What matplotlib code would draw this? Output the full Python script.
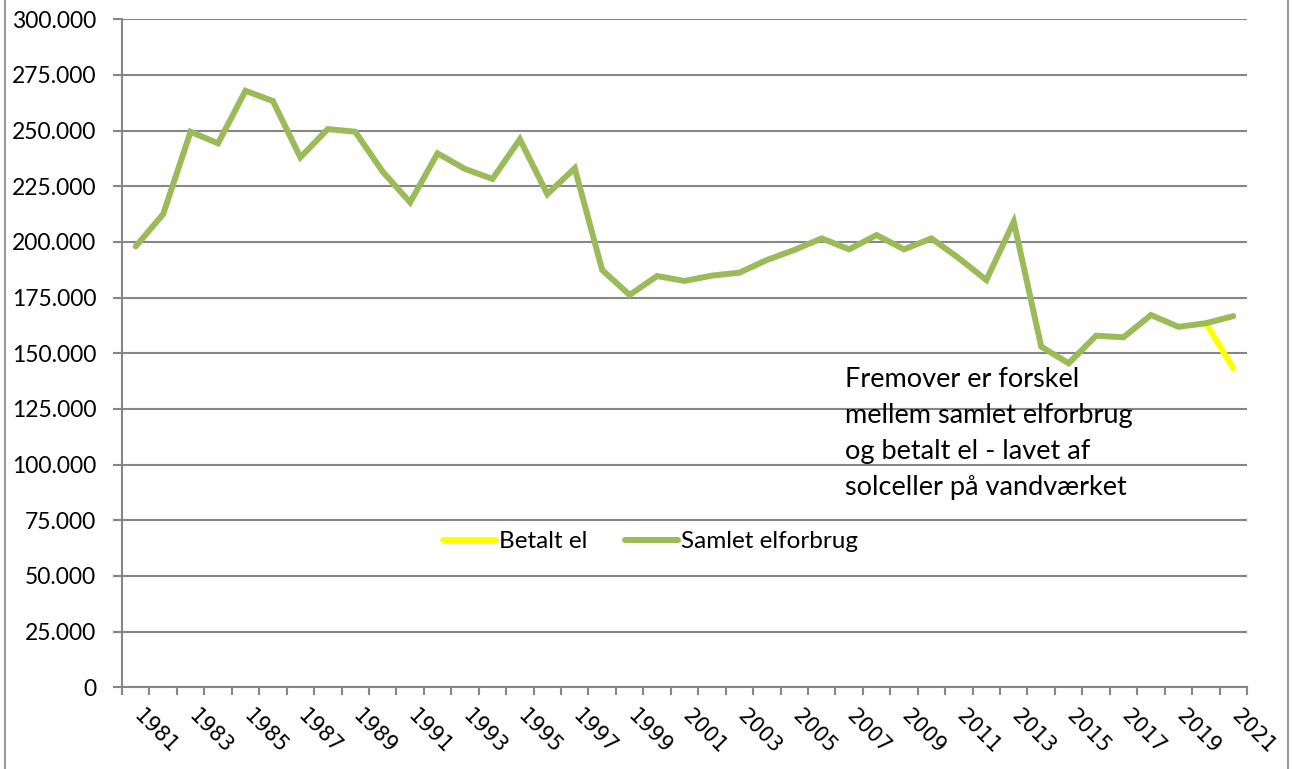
import numpy as np
import matplotlib.pyplot as plt
import matplotlib.transforms as mtransforms
from matplotlib.ticker import FuncFormatter
from matplotlib.patches import Rectangle

# aarstal og elforbrug (kWh)
years = list(range(1981, 2022))
samlet = [198000, 212500, 249500, 244300, 267900, 263300, 238000, 250700, 249500, 231600,
          217800, 239800, 232800, 228300, 246100, 221500, 233100, 187400, 176200, 184700,
          182500, 184900, 186200, 191900, 196400, 201600, 196700, 203100, 196700, 201600,
          192700, 182900, 209100, 153000, 145500, 157900, 157200, 167200, 161900, 163500,
          166700]
betalt = [np.nan] * 39 + [163500, 143300]

yticks = list(range(0, 300001, 25000))

green = '#9BBB59'
yellow = '#FFFF00'
gray = '#868686'

fig = plt.figure(figsize=(12.92, 7.69), dpi=100)
ax = fig.add_axes([122 / 1292, 1 - 687.3 / 769, 1125 / 1292, 668 / 769])

x = np.arange(len(years)) + 0.5
ax.plot(x, betalt, color=yellow, lw=4.3, label='Betalt el', solid_capstyle='round')
ax.plot(x, samlet, color=green, lw=4.3, label='Samlet elforbrug', solid_capstyle='round',
        solid_joinstyle='miter')

ax.set_xlim(0, len(years))
ax.set_ylim(0, 300000)

# y-akse
ax.set_yticks(yticks)
ax.yaxis.set_major_formatter(FuncFormatter(lambda v, p: f'{int(v):,}'.replace(',', '.')))
ax.grid(axis='y', color=gray, lw=1.5)
ax.set_axisbelow(True)
for lab in ax.get_yticklabels():
    lab.set_fontfamily('Lato')
    lab.set_fontsize(16.5)
ax.tick_params(axis='y', length=6.5, width=1.5, color=gray, pad=12)

# x-akse: streger mellem kategorier, hvert andet aarstal
ax.set_xticks(np.arange(len(years) + 1))
ax.set_xticklabels([])
ax.tick_params(axis='x', which='major', length=6, width=1.5, color=gray)
ax.set_xticks(x[::2], minor=True)
ax.set_xticklabels([str(y) for y in years[::2]], minor=True, rotation=-45,
                   ha='left', va='top', fontsize=15, family='DejaVu Sans')
ax.tick_params(axis='x', which='minor', length=0, pad=13)
shift = mtransforms.ScaledTranslation(-6 / 100, 0, fig.dpi_scale_trans)
for lab in ax.get_xticklabels(minor=True):
    lab.set_transform(lab.get_transform() + shift)

for s in ['top', 'right']:
    ax.spines[s].set_visible(False)
for s in ['left', 'bottom']:
    ax.spines[s].set_color(gray)
    ax.spines[s].set_linewidth(1.5)

leg = ax.legend(loc='center', bbox_to_anchor=(0.4695, 0.218), ncol=2, frameon=False,
                prop={'family': 'Lato', 'size': 17.5}, handlelength=2.2,
                handletextpad=0.1, columnspacing=1.55)

fig.text(845 / 1292, 1 - 367 / 769,
         'Fremover er forskel\nmellem samlet elforbrug\nog betalt el - lavet af\nsolceller på vandværket',
         family='Lato', fontsize=19.5, va='top', ha='left', linespacing=1.55)

# ramme om diagrammet
fig.patches.append(Rectangle((5 / 1292, -0.01), 1283 / 1292, 1.02, transform=fig.transFigure,
                             fill=False, edgecolor='#9a9a9a', lw=1.5))

fig.savefig('out.png', dpi=100)
